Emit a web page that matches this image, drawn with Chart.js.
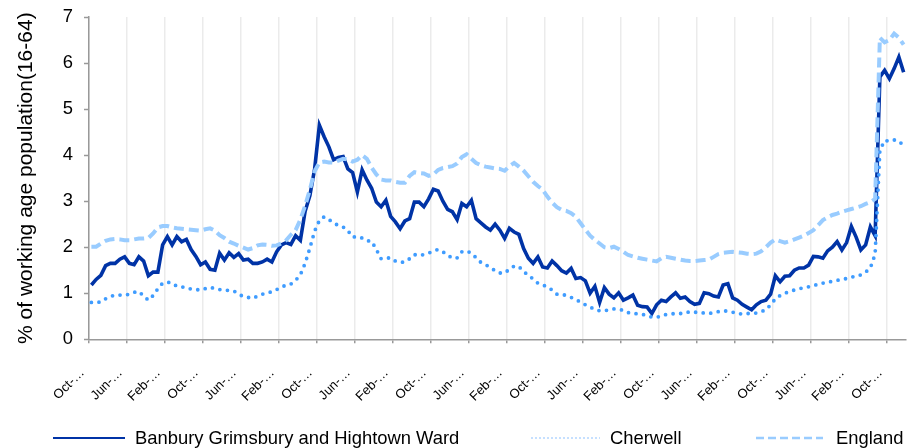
<!DOCTYPE html>
<html lang="en">

<head>
  <meta charset="UTF-8" />
  <title>Claimant rate</title>
  <script src="https://cdn.jsdelivr.net/npm/chart.js"></script>
  <style>
    body { margin: 0; background: #fff; }
    #wrap { position: relative; width: 907px; height: 448px; overflow: hidden; font-family: 'Liberation Sans', Arial, sans-serif; }
    #legend { position: absolute; left: 0; top: 427px; width: 907px; height: 22px; }
    .item { position: absolute; top: 0; height: 22px; display: flex; align-items: center; font-size: 18.4px; color: #000; white-space: nowrap; }
    .item svg { margin-right: 10px; }
  </style>
</head>

<body>
  <div id="wrap">
    <canvas id="grafico" width="907" height="448"></canvas>

    <!-- legend -->
    <div id="legend">
      <div class="item" style="left:53px">
        <svg width="72" height="8"><line x1="0" y1="4" x2="72" y2="4" stroke="#0033a6" stroke-width="2" /></svg>
        <span>Banbury Grimsbury and Hightown Ward</span>
      </div>
      <div class="item" style="left:530px">
        <svg width="70" height="8"><line x1="1" y1="4" x2="70" y2="4" stroke="#c6e0ff" stroke-width="2" stroke-dasharray="2 2" /></svg>
        <span>Cherwell</span>
      </div>
      <div class="item" style="left:756px">
        <svg width="70" height="8"><line x1="0" y1="4" x2="67" y2="4" stroke="#99ccff" stroke-width="2.5" stroke-dasharray="8 4" /></svg>
        <span>England</span>
      </div>
    </div>
  </div>

  <script>
    // monthly values, % of working age population (16-64)
    const ward = [
      1.18, 1.30, 1.39, 1.60, 1.65, 1.65, 1.74, 1.79,
      1.65, 1.62, 1.79, 1.70, 1.38, 1.46, 1.46, 2.05,
      2.23, 2.05, 2.23, 2.12, 2.17, 1.95, 1.80, 1.62,
      1.68, 1.52, 1.50, 1.87, 1.72, 1.88, 1.78, 1.86,
      1.72, 1.74, 1.65, 1.65, 1.68, 1.74, 1.68, 1.90,
      2.05, 2.10, 2.06, 2.25, 2.15, 2.78, 3.12, 3.70,
      4.65, 4.40, 4.18, 3.90, 3.95, 3.97, 3.70, 3.62,
      3.20, 3.68, 3.46, 3.28, 2.98, 2.88, 3.02, 2.67,
      2.55, 2.40, 2.57, 2.62, 2.98, 2.98, 2.88, 3.05,
      3.26, 3.22, 3.00, 2.82, 2.77, 2.60, 2.95, 2.88,
      3.02, 2.62, 2.53, 2.44, 2.37, 2.50, 2.37, 2.19,
      2.41, 2.33, 2.28, 1.97, 1.76, 1.65, 1.79, 1.57,
      1.55, 1.70, 1.60, 1.49, 1.44, 1.54, 1.32, 1.34,
      1.27, 1.00, 1.15, 0.80, 1.12, 0.98, 0.90, 1.01,
      0.85, 0.90, 0.96, 0.74, 0.71, 0.70, 0.56, 0.75,
      0.85, 0.82, 0.92, 1.01, 0.89, 0.92, 0.82, 0.76,
      0.78, 1.01, 0.99, 0.94, 0.92, 1.18, 1.21, 0.90,
      0.85, 0.76, 0.70, 0.64, 0.75, 0.82, 0.85, 0.98,
      1.38, 1.25, 1.37, 1.38, 1.50, 1.55, 1.55, 1.61,
      1.80, 1.79, 1.76, 1.92, 2.00, 2.12, 1.94, 2.10,
      2.45, 2.22, 1.94, 2.05, 2.44, 2.25, 5.70, 5.84,
      5.66, 5.88, 6.13, 5.80
    ];

    const cherwell = [
      0.80, 0.80, 0.81, 0.88, 0.93, 0.96, 0.96, 0.96,
      0.98, 1.02, 1.04, 0.94, 0.85, 0.95, 1.10, 1.22,
      1.24, 1.22, 1.15, 1.14, 1.12, 1.09, 1.08, 1.07,
      1.10, 1.13, 1.10, 1.08, 1.07, 1.06, 1.05, 0.98,
      0.93, 0.91, 0.89, 0.94, 0.98, 1.01, 1.03, 1.08,
      1.13, 1.18, 1.20, 1.28, 1.40, 1.65, 1.98, 2.35,
      2.58, 2.66, 2.60, 2.53, 2.47, 2.44, 2.36, 2.22,
      2.23, 2.20, 2.14, 2.13, 1.95, 1.75, 1.76, 1.77,
      1.70, 1.67, 1.68, 1.75, 1.84, 1.82, 1.84, 1.87,
      1.92, 1.95, 1.90, 1.83, 1.76, 1.77, 1.90, 1.92,
      1.87, 1.77, 1.67, 1.62, 1.56, 1.49, 1.44, 1.44,
      1.52, 1.59, 1.58, 1.47, 1.39, 1.31, 1.22, 1.18,
      1.14, 1.07, 0.98, 0.98, 0.95, 0.91, 0.86, 0.81,
      0.75, 0.70, 0.65, 0.62, 0.62, 0.64, 0.66, 0.65,
      0.63, 0.58, 0.57, 0.55, 0.54, 0.52, 0.48, 0.48,
      0.50, 0.54, 0.55, 0.56, 0.56, 0.57, 0.60, 0.59,
      0.58, 0.57, 0.56, 0.58, 0.60, 0.62, 0.61, 0.59,
      0.56, 0.55, 0.56, 0.56, 0.57, 0.60, 0.64, 0.75,
      0.88, 0.95, 1.00, 1.04, 1.07, 1.10, 1.12, 1.14,
      1.16, 1.20, 1.22, 1.24, 1.26, 1.28, 1.30, 1.32,
      1.35, 1.37, 1.40, 1.46, 1.55, 1.85, 4.10, 4.32,
      4.30, 4.33, 4.31, 4.20
    ];

    const england = [
      2.01, 2.01, 2.08, 2.14, 2.17, 2.18, 2.17, 2.15,
      2.15, 2.17, 2.19, 2.19, 2.20, 2.30, 2.43, 2.46,
      2.46, 2.43, 2.41, 2.40, 2.39, 2.38, 2.37, 2.36,
      2.39, 2.41, 2.36, 2.26, 2.20, 2.12, 2.08, 2.03,
      1.99, 1.95, 1.98, 2.04, 2.06, 2.05, 2.03, 2.04,
      2.08, 2.15, 2.27, 2.37, 2.60, 2.90, 3.25, 3.65,
      3.84, 3.86, 3.84, 3.84, 3.88, 3.92, 3.91, 3.86,
      3.90, 4.00, 3.92, 3.73, 3.58, 3.47, 3.45, 3.45,
      3.42, 3.40, 3.40, 3.55, 3.63, 3.61, 3.60, 3.55,
      3.58, 3.68, 3.72, 3.74, 3.76, 3.82, 3.96, 4.02,
      3.92, 3.83, 3.78, 3.75, 3.73, 3.71, 3.70, 3.66,
      3.76, 3.83, 3.75, 3.66, 3.54, 3.42, 3.33, 3.25,
      3.10, 2.97, 2.87, 2.81, 2.79, 2.74, 2.66, 2.52,
      2.38, 2.25, 2.16, 2.08, 2.00, 1.98, 2.01, 1.96,
      1.90, 1.83, 1.80, 1.77, 1.75, 1.73, 1.71, 1.69,
      1.76, 1.79, 1.77, 1.75, 1.73, 1.71, 1.70, 1.70,
      1.71, 1.72, 1.73, 1.79, 1.85, 1.88, 1.89, 1.90,
      1.89, 1.88, 1.86, 1.85, 1.86, 1.91, 2.00, 2.10,
      2.17, 2.13, 2.10, 2.13, 2.17, 2.21, 2.25, 2.31,
      2.37, 2.48, 2.59, 2.65, 2.70, 2.73, 2.77, 2.80,
      2.83, 2.86, 2.89, 2.94, 2.98, 3.05, 6.55, 6.45,
      6.50, 6.64, 6.55, 6.40
    ];

    // categories are months, first one is October; only every 8th gets a (truncated) label
    const monthNames = ['Oct', 'Nov', 'Dec', 'Jan', 'Feb', 'Mar', 'Apr', 'May', 'Jun', 'Jul', 'Aug', 'Sep'];
    const categories = ward.map((v, i) => monthNames[i % 12]);
    const labelEvery = 8;
    const yTicks = [0, 1, 2, 3, 4, 5, 6, 7];

    const fontFamily = "'Liberation Sans', Arial, sans-serif";

    const ctx = document.getElementById('grafico').getContext('2d');
    new Chart(ctx, {
      type: 'line',
      data: {
        labels: categories,
        datasets: [
          {
            label: 'Banbury Grimsbury and Hightown Ward',
            data: ward,
            borderColor: '#0033a6',
            borderWidth: 3.6,
            order: 3
          },
          {
            label: 'Cherwell',
            data: cherwell,
            borderColor: '#3f9cff',
            borderWidth: 3.8,
            borderDash: [0, 7.6],
            borderCapStyle: 'round',
            order: 2
          },
          {
            label: 'England',
            data: england,
            borderColor: '#99ccff',
            borderWidth: 4,
            borderDash: [10, 5],
            order: 1
          }
        ]
      },
      options: {
        responsive: false,
        animation: false,
        devicePixelRatio: 1,
        elements: {
          point: { radius: 0, hoverRadius: 0 },
          line: { tension: 0, fill: false }
        },
        layout: { padding: { top: 17, right: 1, bottom: 0, left: 0 } },
        plugins: {
          legend: { display: false },
          tooltip: { enabled: false }
        },
        scales: {
          x: {
            offset: true,
            grid: {
              offset: true,
              color: c => c.index % labelEvery === 0 ? '#ebebeb' : 'rgba(0,0,0,0)',
              lineWidth: 1.5,
              tickLength: 4,
              tickWidth: 1.5,
              tickColor: c => c.index % labelEvery === 0 ? '#999999' : 'rgba(0,0,0,0)'
            },
            border: { color: '#999999', width: 1.5 },
            ticks: {
              autoSkip: false,
              minRotation: 45,
              maxRotation: 45,
              padding: 22,
              labelOffset: -9,
              color: '#000',
              font: { family: fontFamily, size: 13 },
              callback: (v, i) => i % labelEvery === 0 ? categories[i] + '-\u2026' : ''
            },
            afterFit: s => { s.height = 108.7; s.paddingLeft = 0; s.paddingRight = 0; }
          },
          y: {
            min: 0,
            max: 7,
            afterBuildTicks: s => { s.ticks = yTicks.map(v => ({ value: v })); },
            grid: { drawOnChartArea: false, tickLength: 5, tickWidth: 1.5, tickColor: '#999999' },
            border: { color: '#999999', width: 1.5 },
            ticks: { padding: 11, color: '#000', font: { family: fontFamily, size: 18.4 } },
            title: {
              display: true,
              text: '% of working age population(16-64)',
              color: '#000',
              font: { family: fontFamily, size: 21 },
              padding: { top: 14, bottom: 0 }
            },
            afterFit: s => { s.width = 89; s.paddingTop = 0; s.paddingBottom = 0; }
          }
        }
      }
    });
  </script>
</body>

</html>
